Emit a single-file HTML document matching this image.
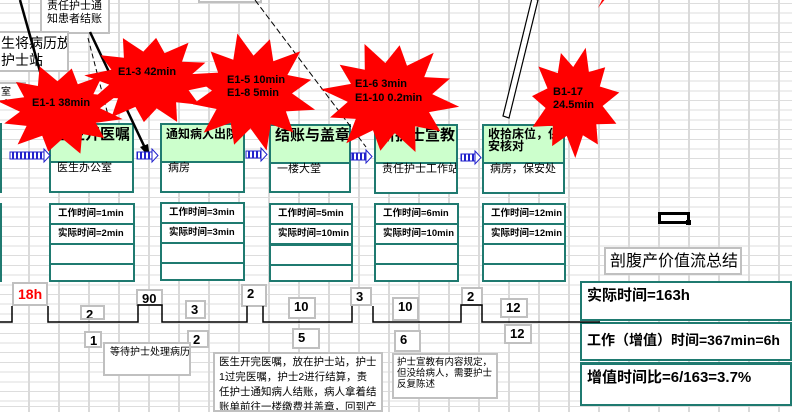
<!DOCTYPE html>
<html><head><meta charset="utf-8">
<style>
html,body{margin:0;padding:0}
body{width:792px;height:403px;position:relative;overflow:hidden;background:#fff;font-family:"Liberation Sans","Noto Sans CJK SC",sans-serif;
background-image:repeating-linear-gradient(90deg,transparent 0,transparent 28px,#dadada 28px,#dadada 30px),repeating-linear-gradient(180deg,transparent 0,transparent 3px,#dddddd 3px,#dddddd 4px,transparent 4px,transparent 9.7px);}
.a{position:absolute;box-sizing:border-box;white-space:nowrap;overflow:hidden}
.pb{border:2px solid #1f7a70;background:#fff}
.ph{position:absolute;left:0;right:0;top:0;height:32px;background:#ccffcc;border-bottom:2px solid #1f7a70;font-size:14px;font-weight:bold;padding:2px 4px;line-height:15px;white-space:nowrap;overflow:hidden}
.ps{position:absolute;top:34px;left:6px;font-size:11px;white-space:nowrap}
.db{border:2px solid #1f7a70;background:#fff}
.db div{height:18px;border-bottom:2px solid #1f7a70;font-size:9.5px;font-weight:bold;padding-left:7px;line-height:18px;white-space:nowrap;overflow:hidden}
.db div:last-child{border-bottom:none}
.nb{border:2px solid #c0c0c0;background:#fff;font-size:13px;font-weight:bold;padding-left:4px;line-height:15px}
.tb{border:2px solid #c0c0c0;background:#fff;font-size:11px;line-height:13px;padding:2px 5px;white-space:normal}
.sb{border:2px solid #1f7a70;background:#fff;font-weight:bold;padding-left:5px}
.st{font-size:11px;font-weight:bold;fill:#000;font-family:"Liberation Sans",sans-serif}
</style></head><body>

<div class="a tb" style="left:40px;top:-4px;width:70px;height:38px;font-size:11px;">责任护士通<br>知患者结账</div>
<div class="a tb" style="left:-6px;top:31px;width:75px;height:41px;font-size:14px;line-height:17px;white-space:nowrap">生将病历放<br>护士站</div>
<div class="a tb" style="left:-6px;top:82px;width:32px;height:20px;font-size:10px;">室拿</div>
<div class="a" style="left:198px;top:-2px;width:64px;height:5px;border:2px solid #c0c0c0;border-top:none;background:#fff"></div>

<div class="a" style="left:-10px;top:123px;width:12px;height:70px;border:2px solid #1f7a70"></div>
<div class="a pb" style="left:49px;top:123px;width:85px;height:70px"><div class="ph" style="font-size:15px">医生开医嘱</div><div class="ps">医生办公室</div></div>
<div class="a pb" style="left:160px;top:123px;width:85px;height:70px"><div class="ph" style="font-size:12px">通知病人出院</div><div class="ps">病房</div></div>
<div class="a pb" style="left:269px;top:124px;width:82px;height:69px"><div class="ph" style="font-size:15px">结账与盖章</div><div class="ps">一楼大堂</div></div>
<div class="a pb" style="left:374px;top:124px;width:84px;height:70px"><div class="ph" style="font-size:15px">新护士宣教</div><div class="ps">责任护士工作站</div></div>
<div class="a pb" style="left:482px;top:124px;width:83px;height:70px"><div class="ph" style="font-size:12px;line-height:12px;white-space:normal;padding-right:0">收拾床位，保安核对</div><div class="ps">病房，保安处</div></div>

<div class="a db" style="left:-10px;top:203px;width:12px;height:79px"></div>
<div class="a db" style="left:49px;top:203px;width:86px;height:79px"><div>工作时间=1min</div><div>实际时间=2min</div><div></div><div></div></div>
<div class="a db" style="left:160px;top:202px;width:85px;height:79px"><div>工作时间=3min</div><div>实际时间=3min</div><div></div><div></div></div>
<div class="a db" style="left:269px;top:203px;width:84px;height:79px"><div>工作时间=5min</div><div style="border-bottom-width:3px">实际时间=10min</div><div></div><div></div></div>
<div class="a db" style="left:374px;top:203px;width:85px;height:79px"><div>工作时间=6min</div><div>实际时间=10min</div><div></div><div></div></div>
<div class="a db" style="left:482px;top:203px;width:84px;height:79px"><div>工作时间=12min</div><div>实际时间=12min</div><div></div><div></div></div>

<div class="a" style="left:658px;top:212px;width:32px;height:12px;border:3px solid #000;background:#fff"></div>
<div class="a" style="left:686px;top:220px;width:5px;height:5px;background:#000"></div>
<div class="a tb" style="left:604px;top:247px;width:138px;height:28px;font-size:16px;line-height:22px;padding-left:4px;white-space:nowrap">剖腹产价值流总结</div>

<div class="a nb" style="left:12px;top:282px;width:36px;height:24px;color:#f00;font-size:14px;line-height:20px">18h</div>
<div class="a nb" style="left:80px;top:305px;width:25px;height:15px">2</div>
<div class="a nb" style="left:136px;top:289px;width:27px;height:17px">90</div>
<div class="a nb" style="left:185px;top:300px;width:21px;height:19px">3</div>
<div class="a nb" style="left:241px;top:284px;width:26px;height:23px">2</div>
<div class="a nb" style="left:288px;top:297px;width:28px;height:22px">10</div>
<div class="a nb" style="left:350px;top:287px;width:22px;height:19px">3</div>
<div class="a nb" style="left:392px;top:297px;width:27px;height:24px">10</div>
<div class="a nb" style="left:84px;top:331px;width:18px;height:17px">1</div>
<div class="a nb" style="left:187px;top:330px;width:22px;height:18px">2</div>
<div class="a nb" style="left:292px;top:328px;width:28px;height:21px">5</div>
<div class="a nb" style="left:394px;top:330px;width:27px;height:22px">6</div>
<div class="a nb" style="left:461px;top:287px;width:22px;height:19px">2</div>
<div class="a nb" style="left:500px;top:298px;width:28px;height:20px">12</div>
<div class="a nb" style="left:504px;top:324px;width:28px;height:20px">12</div>

<div class="a tb" style="left:103px;top:342px;width:88px;height:34px;font-size:10px;white-space:nowrap">等待护士处理病历</div>
<div class="a tb" style="left:213px;top:352px;width:170px;height:60px;font-size:10.5px;line-height:15px;padding:1px 4px">医生开完医嘱，放在护士站，护士1过完医嘱，护士2进行结算，责任护士通知病人结账，病人拿着结账单前往一楼缴费并盖章，回到产科</div>
<div class="a tb" style="left:392px;top:353px;width:106px;height:46px;font-size:9.5px;line-height:11px;padding:2px 3px">护士宣教有内容规定，但没给病人，需要护士反复陈述</div>

<div class="a sb" style="left:580px;top:281px;width:212px;height:40px;font-size:15px;line-height:26px">实际时间=163h</div>
<div class="a sb" style="left:580px;top:322px;width:212px;height:39px;font-size:14px;line-height:32px">工作（增值）时间=367min=6h</div>
<div class="a sb" style="left:580px;top:362px;width:212px;height:44px;font-size:15px;line-height:26px;border-top-width:3px">增值时间比=6/163=3.7%</div>

<svg class="a" style="left:0;top:0" width="792" height="403" viewBox="0 0 792 403">
<defs>
<pattern id="hs" width="4" height="8" patternUnits="userSpaceOnUse"><rect width="4" height="8" fill="#fff"/><rect width="2" height="8" fill="#2222cc"/></pattern>
</defs>
<polyline fill="none" stroke="#000" stroke-width="1.5" points="0,322 12,322 12,306"/>
<polyline fill="none" stroke="#000" stroke-width="1.5" points="48,306 48,322 138,322 138,305 162,305 162,322 247,322 247,306"/>
<polyline fill="none" stroke="#000" stroke-width="1.5" points="263,306 263,322 352,322 352,306"/>
<polyline fill="none" stroke="#000" stroke-width="1.5" points="373,306 373,322 461,322 461,305 482,305 482,322 600,322"/>
<line x1="20" y1="0" x2="48" y2="100" stroke="#000" stroke-width="2.5"/>
<line x1="90" y1="32" x2="146" y2="150" stroke="#000" stroke-width="2.5"/>
<polygon points="150,158 140,147 148,144" fill="#000"/>
<line x1="88" y1="38" x2="108" y2="115" stroke="#000" stroke-width="1" stroke-dasharray="5,3"/>
<line x1="255" y1="0" x2="366" y2="147" stroke="#000" stroke-width="1" stroke-dasharray="6,3"/>
<polygon points="532,-2 538,0 509,118 503,116" fill="#fff" stroke="#000" stroke-width="1.2"/>
<g stroke="#2222cc" stroke-width="1">
<rect x="10" y="152" width="34" height="7" fill="url(#hs)"/><polygon points="44,149 50,155.5 44,162" fill="#fff"/>
<rect x="137" y="152" width="15" height="7" fill="url(#hs)"/><polygon points="152,149 158,155.5 152,162" fill="#fff"/>
<rect x="246" y="151" width="15" height="7" fill="url(#hs)"/><polygon points="261,148 267,154.5 261,161" fill="#fff"/>
<rect x="351" y="153" width="15" height="7" fill="url(#hs)"/><polygon points="366,150 372,156.5 366,163" fill="#fff"/>
<rect x="461" y="154" width="14" height="7" fill="url(#hs)"/><polygon points="475,151 481,157.5 475,164" fill="#fff"/>
</g>
<g id="stars" fill="#f00"></g>
<polygon points="598,8 603,-2 606,-2" fill="#f00"/>
<text class="st" x="32" y="106">E1-1 38min</text>
<text class="st" x="118" y="75">E1-3 42min</text>
<text class="st" x="227" y="83">E1-5 10min</text>
<text class="st" x="227" y="96">E1-8  5min</text>
<text class="st" x="355" y="87">E1-6 3min</text>
<text class="st" x="355" y="101">E1-10  0.2min</text>
<text class="st" x="553" y="95">B1-17</text>
<text class="st" x="553" y="108">24.5min</text>
</svg>
<script>
(function(){
var g=document.getElementById('stars');
function star(cx,cy,rx,ry,n,rot,ri){
 var p=[];for(var i=0;i<2*n;i++){var a=rot+Math.PI*i/n;var r=(i%2==0)?1:ri;var j=(i%4==0)?1:0.92;
 p.push((cx+Math.cos(a)*rx*r*j).toFixed(1)+','+(cy+Math.sin(a)*ry*r*j).toFixed(1));}
 var e=document.createElementNS('http://www.w3.org/2000/svg','polygon');e.setAttribute('points',p.join(' '));g.appendChild(e);}
star(60,110,64,46,12,0.2,0.68);
star(150,80,66,46,12,0.1,0.68);
star(252,92,66,60,12,0.3,0.66);
star(390,98,70,58,12,0.15,0.66);
star(574,102,46,56,11,0.4,0.68);
})();
</script>
</body></html>
